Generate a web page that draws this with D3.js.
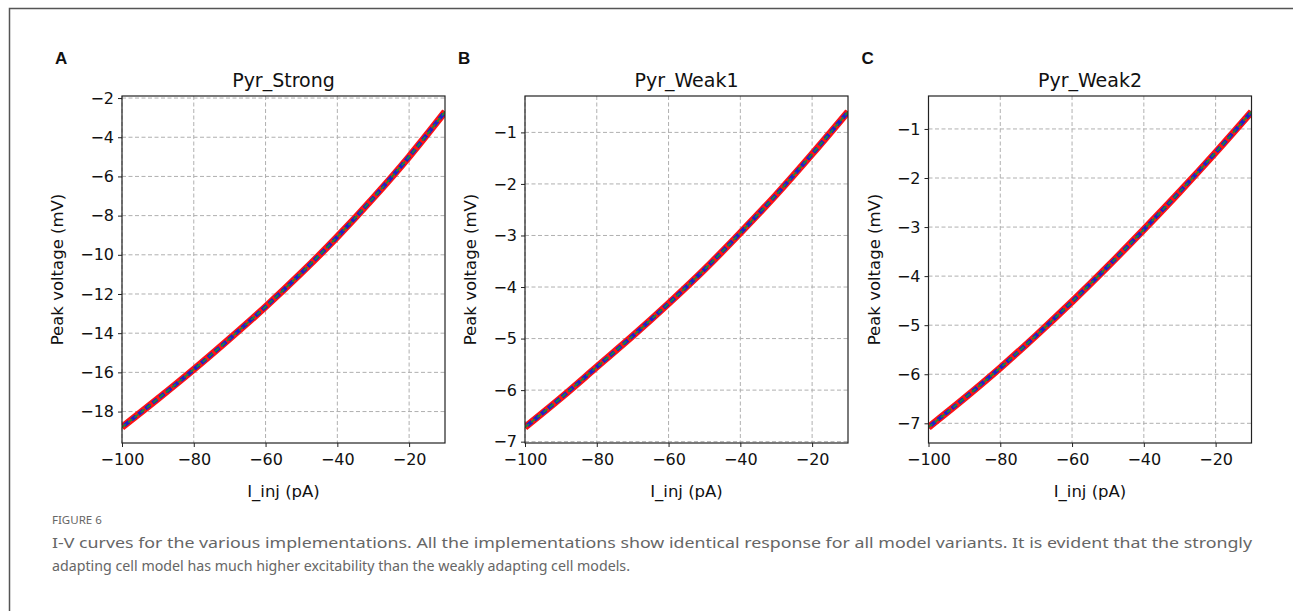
<!DOCTYPE html>
<html>
<head>
<meta charset="utf-8">
<script src="https://cdn.jsdelivr.net/npm/d3@7"></script>
<style>
  body { margin: 0; background: #fff; }
  svg { display: block; }
</style>
</head>
<body>
<svg id="fig" width="1293" height="611"></svg>
<script>
// injected current (pA)
var currents = [-100, -90, -80, -70, -60, -50, -40, -30, -20, -10];

// peak voltage (mV) per cell model
var pyrStrong = [-18.8, -17.35, -15.85, -14.28, -12.65, -10.92, -9.08, -7.1, -4.99, -2.7];
var pyrWeak1  = [-6.72, -6.15, -5.55, -4.95, -4.32, -3.66, -2.95, -2.21, -1.42, -0.6];
var pyrWeak2  = [-7.08, -6.49, -5.87, -5.21, -4.52, -3.80, -3.05, -2.28, -1.48, -0.65];

var panelLetters = ["A", "B", "C"];
var panelTitles = ["Pyr_Strong", "Pyr_Weak1", "Pyr_Weak2"];
var xTicks = [-100, -80, -60, -40, -20];
var yTicksA = [-18, -16, -14, -12, -10, -8, -6, -4, -2];
var yTicksBC = [-7, -6, -5, -4, -3, -2, -1];

var panels = [
    { left: 122, values: pyrStrong, yticks: yTicksA, labelGap: 65 },
    { left: 525, values: pyrWeak1, yticks: yTicksBC, labelGap: 55 },
    { left: 928.5, values: pyrWeak2, yticks: yTicksBC, labelGap: 54 }
];

var svg = d3.select("#fig"),
    plotW = 323,
    plotTop = 96,
    plotBottom = 443,
    mpl = "'DejaVu Sans', sans-serif";

// outer frame (only top and left edge are visible in the crop)
svg.append("path")
    .attr("d", "M9.5,611 L9.5,8.5 L1293,8.5")
    .attr("fill", "none")
    .attr("stroke", "#555")
    .attr("stroke-width", 1.5);

function minusSign(v)
{
    return String(v).replace("-", "\u2212");
}

function drawPanel(p, idx)
{
    var vals = p.values;
    var lo = d3.min(vals), hi = d3.max(vals), pad = (hi - lo) * 0.05;

    var x = d3.scaleLinear().domain([-100, -10]).range([p.left, p.left + plotW]);
    var y = d3.scaleLinear().domain([lo - pad, hi + pad]).range([plotBottom, plotTop]);

    var g = svg.append("g");

    // dashed grid
    var grid = g.append("g")
        .attr("stroke", "#b0b0b0")
        .attr("stroke-width", 1)
        .attr("stroke-dasharray", "4,2.5");
    grid.selectAll(".gx")
        .data(xTicks)
        .enter().append("line")
        .attr("x1", function(d) { return x(d); })
        .attr("x2", function(d) { return x(d); })
        .attr("y1", plotTop)
        .attr("y2", plotBottom);
    grid.selectAll(".gy")
        .data(p.yticks)
        .enter().append("line")
        .attr("x1", p.left)
        .attr("x2", p.left + plotW)
        .attr("y1", function(d) { return y(d); })
        .attr("y2", function(d) { return y(d); });

    var line = d3.line()
        .x(function(d, i) { return x(currents[i]); })
        .y(function(d) { return y(d); })
        .curve(d3.curveMonotoneX);

    var clip = "clip" + idx;
    g.append("clipPath").attr("id", clip)
        .append("rect")
        .attr("x", p.left).attr("y", plotTop)
        .attr("width", plotW).attr("height", plotBottom - plotTop);

    var curves = g.append("g").attr("clip-path", "url(#" + clip + ")");
    var styles = [
        { color: "#ff1414", width: 7, dash: null },
        { color: "#2020c8", width: 4, dash: null },
        { color: "#ff1414", width: 5, dash: "3,6" },
        { color: "#1f8a3a", width: 1.8, dash: "5,3" }
    ];
    styles.forEach(function(s) {
        curves.append("path")
            .datum(vals)
            .attr("d", line)
            .attr("fill", "none")
            .attr("stroke", s.color)
            .attr("stroke-width", s.width)
            .attr("stroke-dasharray", s.dash);
    });

    // axes
    var xAxis = d3.axisBottom(x)
        .tickValues(xTicks)
        .tickSize(4)
        .tickPadding(7)
        .tickFormat(minusSign);
    var yAxis = d3.axisLeft(y)
        .tickValues(p.yticks)
        .tickSize(4)
        .tickPadding(4)
        .tickFormat(minusSign);

    var gx = g.append("g")
        .attr("transform", "translate(0," + plotBottom + ")")
        .call(xAxis);
    var gy = g.append("g")
        .attr("transform", "translate(" + p.left + ",0)")
        .call(yAxis);

    [gx, gy].forEach(function(a) {
        a.select(".domain").remove();
        a.selectAll("line").attr("stroke", "#222");
        a.selectAll("text")
            .attr("fill", "#111")
            .style("font-family", mpl)
            .style("font-size", "16px");
    });

    g.append("rect")
        .attr("x", p.left).attr("y", plotTop)
        .attr("width", plotW).attr("height", plotBottom - plotTop)
        .attr("fill", "none")
        .attr("stroke", "#222")
        .attr("stroke-width", 1.2);

    // labels
    g.append("text")
        .attr("x", p.left + plotW / 2)
        .attr("y", 87)
        .attr("text-anchor", "middle")
        .style("font-family", mpl)
        .style("font-size", "19px")
        .attr("fill", "#111")
        .text(panelTitles[idx]);

    g.append("text")
        .attr("x", p.left + plotW / 2)
        .attr("y", 497)
        .attr("text-anchor", "middle")
        .style("font-family", mpl)
        .style("font-size", "16.5px")
        .attr("fill", "#111")
        .text("I_inj (pA)");

    g.append("text")
        .attr("transform", "translate(" + (p.left - p.labelGap) + "," + ((plotTop + plotBottom) / 2) + ") rotate(-90)")
        .attr("text-anchor", "middle")
        .attr("dy", "0.35em")
        .style("font-family", mpl)
        .style("font-size", "16.5px")
        .attr("fill", "#111")
        .text("Peak voltage (mV)");

    g.append("text")
        .attr("x", p.left - 67)
        .attr("y", 64)
        .style("font-family", "'Liberation Sans', Arial, sans-serif")
        .style("font-size", "17px")
        .style("font-weight", "bold")
        .attr("fill", "#111")
        .text(panelLetters[idx]);
}

panels.forEach(drawPanel);

// caption
var cap = svg.append("g")
    .style("font-family", "'Noto Sans', sans-serif")
    .attr("fill", "#666");
cap.append("text")
    .attr("x", 52).attr("y", 524)
    .style("font-size", "11.5px")
    .text("FIGURE 6");
cap.append("text")
    .attr("x", 52).attr("y", 548)
    .style("font-size", "14px")
    .attr("textLength", 1200)
    .attr("lengthAdjust", "spacingAndGlyphs")
    .text("I-V curves for the various implementations. All the implementations show identical response for all model variants. It is evident that the strongly");
cap.append("text")
    .attr("x", 52).attr("y", 571)
    .style("font-size", "14px")
    .attr("textLength", 578)
    .attr("lengthAdjust", "spacingAndGlyphs")
    .text("adapting cell model has much higher excitability than the weakly adapting cell models.");
</script>
</body>
</html>
